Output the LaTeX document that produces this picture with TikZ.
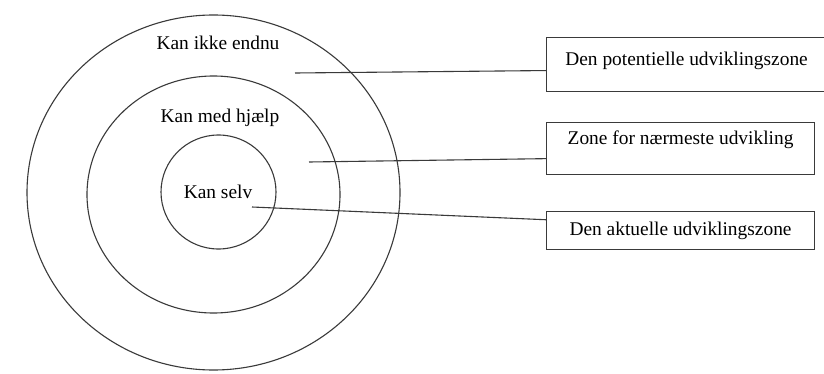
\documentclass[tikz,border=0pt]{standalone}
\usepackage{fontspec}
\setmainfont{Liberation Serif}
\usepackage{tikz}
\usepackage{xcolor}
\usetikzlibrary{positioning,shapes.geometric}
\definecolor{ZoneInk}{HTML}{3A3A3A}
\tikzset{
  ring/.style={draw=ZoneInk,line width=0.55pt,ellipse,inner sep=0pt},
  zonebox/.style={draw=ZoneInk,line width=0.55pt,align=center,inner sep=0pt,text=black,anchor=north west},
  leader/.style={draw=ZoneInk,line width=0.55pt}
}

\begin{document}
\begin{tikzpicture}[x=0.5pt,y=-0.5pt,font=\fontsize{9.7}{11}\selectfont]
  \useasboundingbox[fill=white] (0,0) rectangle (824,374);
  % the three zones
  \node[ring,minimum width=186.5pt,minimum height=177.5pt] (outer) at (213.5,192.5) {};
  \node[ring,minimum width=126.5pt,minimum height=118.5pt] (middle) at (213.5,194.5) {};
  \node[ring,minimum width=57.5pt,minimum height=57pt] (inner) at (218.5,192) {};
  \node (endnu) at (218,43) {Kan ikke endnu};
  \node (hjaelp) at (220,118) {Kan med hjælp};
  \node (selv) at (218,192) {Kan selv};
  % the boxes on the right
  \node[zonebox,minimum width=140pt,minimum height=27pt,text depth=6.1pt] (potentiel) at (546,37) {Den potentielle udviklingszone};
  \node[zonebox,minimum width=134pt,minimum height=26pt,text depth=10.6pt,below=15pt of potentiel.south west,anchor=north west] (naermeste) {Zone for nærmeste udvikling};
  \node[zonebox,minimum width=134pt,minimum height=19pt,below=18pt of naermeste.south west,anchor=north west] (aktuel) {Den aktuelle udviklingszone};
  \coordinate (endnupt) at (295,73);
  \coordinate (hjaelppt) at (309,162);
  \coordinate (selvpt) at (252,207);
  \draw[leader] (endnupt) -- ([yshift=-3pt]potentiel.west);
  \draw[leader] (hjaelppt) -- ([yshift=-5pt]naermeste.west);
  \draw[leader] (selvpt) -- ([yshift=5.5pt]aktuel.west);
\end{tikzpicture}
\end{document}
